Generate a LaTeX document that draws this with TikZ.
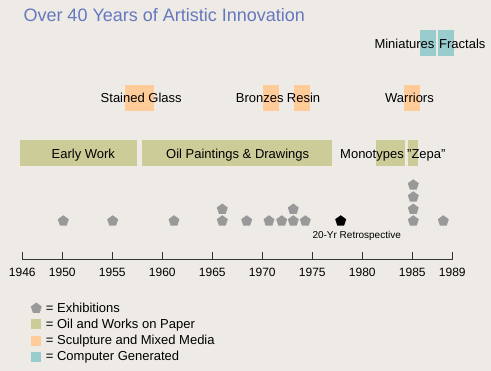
\documentclass[tikz,border=0pt]{standalone}
\usepackage{fontspec}
\setmainfont{Liberation Sans}
\usetikzlibrary{shapes.geometric}
\definecolor{bg}{RGB}{238,235,230}
\definecolor{oilc}{RGB}{204,204,153}
\definecolor{sculc}{RGB}{255,204,153}
\definecolor{compc}{RGB}{153,204,204}
\definecolor{titlec}{RGB}{102,120,190}
\definecolor{exhc}{RGB}{153,153,153}
\definecolor{axisc}{RGB}{51,51,51}
\tikzset{
  lbl/.style={font=\fontsize{13}{15}\selectfont, inner sep=0pt, anchor=base},
  yr/.style={font=\fontsize{12}{14}\selectfont, inner sep=0pt, anchor=base},
  pent/.style={regular polygon, regular polygon sides=5, minimum size=11.5pt, inner sep=0pt, fill=exhc},
  bpent/.style={pent, fill=black},
}
\begin{document}
\begin{tikzpicture}[x=1pt,y=-1pt]
\fill[bg] (0,0) rectangle (491,371);
\useasboundingbox (0,0) rectangle (491,371);
% title
\node[font=\fontsize{18}{20}\selectfont, text=titlec, inner sep=0pt, anchor=base west] (title) at (23.3,21.7) {Over 40 Years of Artistic Innovation};
% computer generated boxes
\fill[compc] (420,30) rectangle (435.7,55.7);
\fill[compc] (438,30) rectangle (453.7,55.7);
\node[lbl, anchor=base west] (mini) at (374.3,48.5) {Miniatures};
\node[lbl, anchor=base west] (frac) at (439,48.5) {Fractals};
% sculpture boxes
\fill[sculc] (125,84.7) rectangle (153.7,110.7);
\fill[sculc] (263,84.7) rectangle (278.7,110.7);
\fill[sculc] (294,84.7) rectangle (309.7,110.7);
\fill[sculc] (404,84.7) rectangle (419.7,110.7);
\node[lbl] (stained) at (141.2,102.3) {Stained Glass};
\node[lbl, anchor=base west] (bronzes) at (235.7,102.3) {Bronzes};
\node[lbl, anchor=base west] (resin) at (286.7,102.3) {Resin};
\node[lbl] (warriors) at (409.5,102.3) {Warriors};
% oil boxes
\fill[oilc] (20,140) rectangle (137,165.7);
\fill[oilc] (142,140) rectangle (332,165.7);
\fill[oilc] (376,140) rectangle (405,165.7);
\fill[oilc] (408,140) rectangle (418,165.7);
\node[lbl] (early) at (83.3,158.3) {Early Work};
\node[lbl] (oil) at (237.7,158.3) {Oil Paintings \& Drawings};
\node[lbl, anchor=base west] (mono) at (340,158.3) {Monotypes};
\node[lbl, anchor=base west] (zepa) at (407,158.3) {\symbol{34}Zepa\symbol{34}};
% exhibitions
\foreach \x/\y [count=\i] in {63.3/221, 112.7/221, 174/221, 222.3/221, 222.3/209.3, 246.7/221, 269/221, 281.7/221, 293.3/221, 293.3/209.3, 305.3/221, 413.3/221, 413.3/209.3, 413.3/197, 413.3/185, 443.3/221}
  \node[pent] (e\i) at (\x,\y) {};
\node[bpent] (retro) at (340.7,221) {};
\node[font=\fontsize{10}{12}\selectfont, inner sep=0pt, anchor=base] (retrolbl) at (356.7,238.7) {20-Yr Retrospective};
% axis
\coordinate (a0) at (22.3,260);
\coordinate (a1) at (452.3,260);
\draw[axisc, line width=1pt] (a0) -- (a1);
\foreach \yv/\xv in {1946/22.3,1950/62.3,1955/112.3,1960/162.3,1965/212.3,1970/262.3,1975/312.3,1980/362.3,1985/412.3,1989/452.3}{
  \draw[axisc, line width=1pt] (\xv,260) -- (\xv,251.7);
  \node[yr] (y\yv) at (\xv,277) {\yv};
}
% legend
\node[pent] (legp) at (36.3,308.3) {};
\node[lbl, anchor=base west] (legpt) at (45.7,312.5) {= Exhibitions};
\fill[oilc] (31,319.5) rectangle (41,329.5);
\node[lbl, anchor=base west] (lego) at (45.7,328.5) {= Oil and Works on Paper};
\fill[sculc] (31,335.7) rectangle (41,345.7);
\node[lbl, anchor=base west] (legs) at (45.7,344.5) {= Sculpture and Mixed Media};
\fill[compc] (31,351.7) rectangle (41,361.7);
\node[lbl, anchor=base west] (legc) at (45.7,360.5) {= Computer Generated};
\end{tikzpicture}
\end{document}
